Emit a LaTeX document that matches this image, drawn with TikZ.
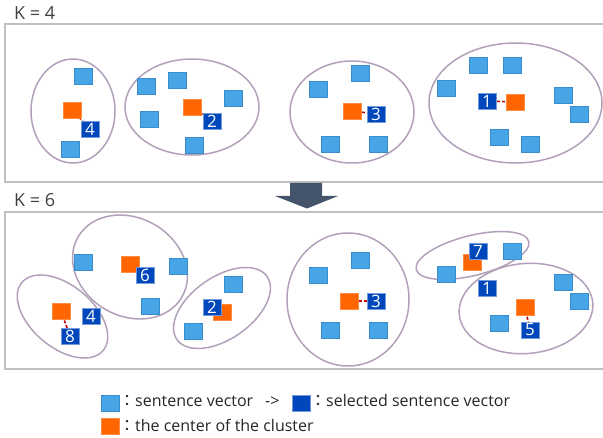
\documentclass[tikz,border=0pt]{standalone}
\usepackage{fontspec}
\setmainfont{Open Sans}
\newfontfamily\cjkfont{Noto Sans CJK TC}
\definecolor{vecblue}{RGB}{71,165,230}
\definecolor{vecedge}{RGB}{58,140,205}
\definecolor{selblue}{RGB}{0,71,187}
\definecolor{ctrorange}{RGB}{255,102,0}
\definecolor{clustercol}{RGB}{178,160,186}
\definecolor{framegray}{RGB}{191,191,191}
\definecolor{arrowslate}{RGB}{68,84,106}
\definecolor{linkred}{RGB}{192,0,0}
\definecolor{labeltext}{RGB}{64,64,64}
\definecolor{legendtext}{RGB}{38,38,38}
\newcommand{\fcolon}{{\cjkfont ：}}
\begin{document}
\begin{tikzpicture}[x=1pt,y=-1pt,
  sq/.style={rectangle, minimum width=18pt, minimum height=16pt, inner sep=0pt, line width=0.6pt},
  vec/.style={sq, fill=vecblue, draw=vecedge},
  sel/.style={sq, fill=selblue, draw=selblue!55!white, text=white, font=\fontsize{17}{17}\selectfont},
  ctr/.style={sq, fill=ctrorange, draw=ctrorange!75!white},
  cluster/.style={draw=clustercol, line width=1.5pt},
  link/.style={draw=linkred, line width=1.6pt, dash pattern=on 3pt off 2pt},
  panel/.style={draw=framegray, line width=1.3pt},
  klabel/.style={anchor=base west, inner sep=0pt, text=labeltext, font=\fontsize{18}{18}\selectfont},
  legend/.style={anchor=base west, inner sep=0pt, text=legendtext, font=\fontsize{16}{16}\selectfont}]
\useasboundingbox (0,0) rectangle (603,438);

% ---------- panel frames and titles ----------
\draw[panel] (606,24) -- (5,24) -- (5,182) -- (606,182);
\draw[panel] (606,212) -- (5,212) -- (5,369) -- (606,369);
\node[klabel] (k4) at (14,20) {K = 4};
\node[klabel] (k6) at (14,207) {K = 6};

% ---------- transition arrow ----------
\fill[arrowslate] (290,183) -- (322,183) -- (322,196) -- (338,196) -- (307,208.5)
  -- (275,196) -- (290,196) -- cycle;

% ---------- K = 4 clusters ----------
\draw[cluster] (73,111) ellipse [x radius=42pt, y radius=52pt];
\draw[cluster] (192,107) ellipse [x radius=67pt, y radius=48pt];
\draw[cluster] (352,112) ellipse [x radius=62pt, y radius=51pt];
\draw[cluster] (515.5,103) ellipse [x radius=86.5pt, y radius=60pt];

\node[vec] (a1) at (83,76) {};
\node[vec] (a2) at (70,149) {};
\node[vec] (a3) at (146,86) {};
\node[vec] (a4) at (177,80) {};
\node[vec] (a5) at (233,98) {};
\node[vec] (a6) at (149,119) {};
\node[vec] (a7) at (194,145) {};
\node[vec] (a8) at (360,73) {};
\node[vec] (a9) at (318,89) {};
\node[vec] (a10) at (330,144) {};
\node[vec] (a11) at (378,144) {};
\node[vec] (a12) at (478,65) {};
\node[vec] (a13) at (512,65) {};
\node[vec] (a14) at (446,88) {};
\node[vec] (a15) at (563,95) {};
\node[vec] (a16) at (579,114) {};
\node[vec] (a17) at (499,137) {};
\node[vec] (a18) at (530,144) {};

\coordinate (ac1) at (72,110);
\coordinate (ac2) at (192,107);
\coordinate (ac3) at (352,111);
\coordinate (ac4) at (515,102);
\coordinate (as4) at (90,129);
\coordinate (as2) at (212,121);
\coordinate (as3) at (376,114);
\coordinate (as1) at (487,101);
\draw[link] (ac1) -- (as4);
\draw[link] (ac2) -- (as2);
\draw[link] (ac3) -- (as3);
\draw[link] (ac4) -- (as1);

\node[ctr] (c1) at (ac1) {};
\node[ctr] (c2) at (ac2) {};
\node[ctr] (c3) at (ac3) {};
\node[ctr] (c4) at (ac4) {};
\node[sel] (s4) at (as4) {4};
\node[sel] (s2) at (as2) {2};
\node[sel] (s3) at (as3) {3};
\node[sel] (s1) at (as1) {1};

% ---------- K = 6 clusters ----------
\draw[cluster, rotate around={-40:(62.5,316.5)}] (62.5,316.5) ellipse [x radius=53pt, y radius=31pt];
\draw[cluster, rotate around={-30:(130,267)}] (130,267) ellipse [x radius=60pt, y radius=49pt];
\draw[cluster, rotate around={35:(222,308)}] (222,308) ellipse [x radius=55pt, y radius=31pt];
\draw[cluster] (348,299.5) ellipse [x radius=61pt, y radius=66.5pt];
\draw[cluster, rotate around={14:(472.5,255.5)}] (472.5,255.5) ellipse [x radius=58pt, y radius=20pt];
\draw[cluster, rotate around={5:(526,308.5)}] (526,308.5) ellipse [x radius=67pt, y radius=45pt];

\node[vec] (b1) at (83,262) {};
\node[vec] (b2) at (178,266) {};
\node[vec] (b3) at (150,306) {};
\node[vec] (b4) at (233,284) {};
\node[vec] (b5) at (193,331) {};
\node[vec] (b6) at (360,260) {};
\node[vec] (b7) at (318,275) {};
\node[vec] (b8) at (330,330) {};
\node[vec] (b9) at (378,330) {};
\node[vec] (b10) at (512,251) {};
\node[vec] (b11) at (446,274) {};
\node[vec] (b12) at (563,282) {};
\node[vec] (b13) at (579,301) {};
\node[vec] (b14) at (499,323) {};

\coordinate (bc1) at (130,264);
\coordinate (bc2) at (61,311);
\coordinate (bc3) at (222,312);
\coordinate (bc4) at (349,301);
\coordinate (bc5) at (472,262);
\coordinate (bc6) at (525,307);
\coordinate (bs6) at (145,275);
\coordinate (bs8) at (70,336);
\coordinate (bs3) at (376,301);
\coordinate (bs5) at (530,330);
\draw[link] (bc1) -- (bs6);
\draw[link] (bc2) -- (bs8);
\draw[link] (bc4) -- (bs3);
\draw[link] (bc6) -- (bs5);

\node[ctr] (d1) at (bc1) {};
\node[ctr] (d2) at (bc2) {};
\node[ctr] (d3) at (bc3) {};
\node[ctr] (d4) at (bc4) {};
\node[ctr] (d5) at (bc5) {};
\node[ctr] (d6) at (bc6) {};
\node[sel] (t6) at (bs6) {6};
\node[sel] (t4) at (91,316) {4};
\node[sel] (t8) at (bs8) {8};
\node[sel] (t2) at (212,307) {2};
\node[sel] (t3) at (bs3) {3};
\node[sel] (t7) at (478,251) {7};
\node[sel] (t1) at (487,288) {1};
\node[sel] (t5) at (bs5) {5};

% ---------- legend ----------
\node[vec] (lv) at (110,403) {};
\node[legend] (lvt) at (119,407) {\fcolon sentence vector};
\node[legend] (larr) at (265,407) {->};
\node[sel] (ls) at (301,403) {};
\node[legend] (lst) at (310,407) {\fcolon selected sentence vector};
\node[ctr] (lc) at (110,426) {};
\node[legend] (lct) at (119,432) {\fcolon the center of the cluster};
\end{tikzpicture}
\end{document}
